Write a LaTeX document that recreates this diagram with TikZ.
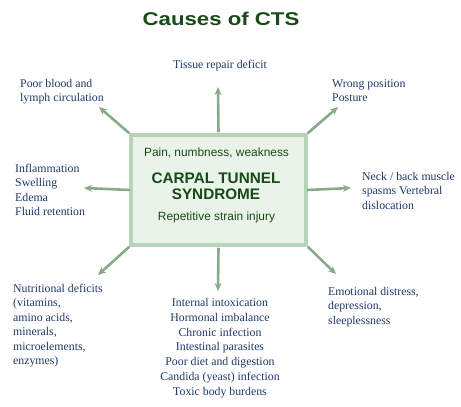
\documentclass[tikz,border=0pt]{standalone}
\usepackage{fontspec}
\setmainfont{Liberation Serif}
\setsansfont{Liberation Sans}
\usetikzlibrary{arrows.meta}
\definecolor{txtblue}{HTML}{1F3868}
\definecolor{dkgreen}{HTML}{174A17}
\definecolor{arrowgreen}{HTML}{8AAB8A}
\definecolor{boxborder}{HTML}{B8D4B8}
\definecolor{boxfill}{HTML}{E9F3E9}
\tikzset{
  cause/.style={inner sep=0pt, text=txtblue, font=\fontsize{11.8}{14.5}\selectfont},
  boxtext/.style={inner sep=0pt, text=dkgreen, font=\sffamily\fontsize{11.9}{14}\selectfont},
  arr/.style={draw=arrowgreen, line width=2.6pt, -{Stealth[length=8pt,width=7pt]}}
}
\begin{document}
\begin{tikzpicture}[x=1pt,y=-1pt]
\useasboundingbox (0,0) rectangle (461,407);
\node[inner sep=0pt, anchor=base, text=dkgreen, font=\sffamily\bfseries\fontsize{18.5}{20}\selectfont] (title) at (221,25) {\scalebox{1.2}[1]{Causes of CTS}};
\node[draw=boxborder, line width=3.5pt, fill=boxfill, minimum width=175pt, minimum height=110pt, inner sep=0pt] (box) at (218.5,190) {};
\node[boxtext, anchor=base] (pain) at (216.5,156) {Pain, numbness, weakness};
\node[boxtext, anchor=base, font=\sffamily\bfseries\fontsize{15.3}{16}\selectfont] (cts1) at (216,183) {CARPAL TUNNEL};
\node[boxtext, anchor=base, font=\sffamily\bfseries\fontsize{15.3}{16}\selectfont] (cts2) at (216,199.5) {SYNDROME};
\node[boxtext, anchor=base] (rsi) at (216.5,220) {Repetitive strain injury};
% causes (base anchor = baseline of last line)
\node[cause, anchor=base] (tissue) at (220,68) {Tissue repair deficit};
\node[cause, anchor=base west, align=left] (blood) at (20,101.5) {Poor blood and\\lymph circulation};
\node[cause, anchor=base west, align=left] (wrong) at (332,101.5) {Wrong position\\Posture};
\node[cause, anchor=base west, align=left] (infl) at (15,215.5) {Inflammation\\Swelling\\Edema\\Fluid retention};
\node[cause, anchor=base west, align=left] (neck) at (362,209) {Neck / back muscle\\spasms Vertebral\\dislocation};
\node[cause, anchor=base west, align=left] (nutr) at (13,364.5) {Nutritional deficits\\(vitamins,\\amino acids,\\minerals,\\microelements,\\enzymes)};
\node[cause, anchor=base, align=center, font=\fontsize{11.8}{14.67}\selectfont] (internal) at (220,395) {Internal intoxication\\Hormonal imbalance\\Chronic infection\\Intestinal parasites\\Poor diet and digestion\\Candida (yeast) infection\\Toxic body burdens};
\node[cause, anchor=base west, align=left] (emo) at (328,324) {Emotional distress,\\depression,\\sleeplessness};
% arrow end points
\coordinate (tUp) at (218,87);
\coordinate (tDown) at (218,291);
\coordinate (tLeft) at (84,188);
\coordinate (tRight) at (351,188);
\coordinate (tUL) at (99,107);
\coordinate (tUR) at (338,107);
\coordinate (tLL) at (98,275);
\coordinate (tLR) at (336,274);
\draw[arr] (box.north) ++(0,-1) -- (tUp);
\draw[arr] (box.south) ++(0,1) -- (tDown);
\draw[arr] (box.west) ++(1,0) -- (tLeft);
\draw[arr] (box.east) ++(-1,0) -- (tRight);
\draw[arr] (box.north west) -- (tUL);
\draw[arr] (box.north east) -- (tUR);
\draw[arr] (box.south west) -- (tLL);
\draw[arr] (box.south east) -- (tLR);
\end{tikzpicture}
\end{document}
